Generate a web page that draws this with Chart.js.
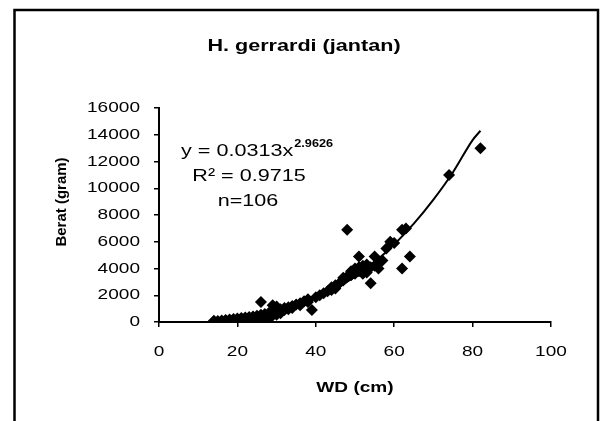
<!DOCTYPE html>
<html><head><meta charset="utf-8">
<script src="https://cdn.jsdelivr.net/npm/chart.js@4.4.0/dist/chart.umd.min.js"></script>
<style>html,body{margin:0;padding:0;background:#fff;}canvas{display:block;}</style>
</head><body>
<canvas id="c" width="602" height="421"></canvas>
<script>
// ---- chart data ----
const chartTitle = 'H. gerrardi (jantan)';
const xAxisTitle = 'WD (cm)';
const yAxisTitle = 'Berat (gram)';
const xTicks = [0, 20, 40, 60, 80, 100];
const yTicks = [0, 2000, 4000, 6000, 8000, 10000, 12000, 14000, 16000];

const wd = [14,15,16,17,17,18,18,19,19,20,20,20,21,21,22,22,22,23,23,23,24,24,24,
  25,25,25,25,26,26,26,26,27,27,27,27,28,28,28,28,29,29,29,29,30,30,30,30,31,31,31,
  32,32,33,33,34,34,35,36,36,37,38,38,39,40,41,42,43,44,44,45,45,46,
  47,47,48,48,49,49,50,50,51,51,51,52,52,52,53,53,53,54,54,55,55,56,56,57,58,59,60,
  62,63,62,64,74,82];
const berat = [100,80,120,150,90,180,120,220,150,260,180,120,300,200,330,250,180,380,300,220,420,350,260,
  470,400,300,200,1500,550,450,350,600,500,380,250,680,560,450,300,1250,760,620,480,1150,850,700,550,950,780,650,
  1050,900,1100,950,1200,1050,1300,1400,1250,1550,1700,1500,900,1850,2000,2150,2300,2600,2400,2750,2500,2900,
  3100,3300,6900,3400,3500,3800,3600,4000,4900,3800,4100,3900,4200,3600,4000,4300,3700,2900,4100,4900,4200,4000,4400,4600,5500,6000,5900,
  6900,7000,4000,4900,11000,13000];

// power trendline (y = 0.0313x^2.9626)
const trendWd = [14, 20, 25, 30, 35, 40, 45, 50, 55, 60, 65, 70, 75, 80, 82];
const trendBerat = [80, 220, 430, 740, 1180, 1750, 2480, 3380, 4490, 5800, 7350, 9150, 11200, 13600, 14300];

const eqMain = 'y = 0.0313x';
const eqExp = '2.9626';
const r2Text = 'R\u00B2 = 0.9715';
const nText = 'n=106';

// ---- rendering ----
const FAMILY = '"Liberation Sans", Arial, sans-serif';
const SX = 1.27; // horizontal text stretch seen in the reference
const canvas = document.getElementById('c');
const ctx0 = canvas.getContext('2d');
const origFill = ctx0.fillText;
ctx0.fillText = function (text, x, y) {
  const m = this.getTransform();
  if (Math.abs(m.b) > 1e-6 || Math.abs(m.c) > 1e-6) return origFill.call(this, text, x, y);
  this.save();
  this.translate(x, y);
  this.scale(SX, 1);
  origFill.call(this, text, 0, 0);
  this.restore();
};

const framePlugin = {
  id: 'frame',
  beforeDraw(chart) {
    const c = chart.ctx;
    c.save();
    c.fillStyle = '#fff';
    c.fillRect(0, 0, chart.width, chart.height);
    c.strokeStyle = '#000';
    c.lineWidth = 2.5;
    c.beginPath();
    c.moveTo(14.5, 421);
    c.lineTo(14.5, 10);
    c.lineTo(598, 10);
    c.lineTo(598, 421);
    c.stroke();
    c.restore();
  }
};

const textPlugin = {
  id: 'texts',
  afterDraw(chart) {
    const c = chart.ctx;
    c.save();
    c.fillStyle = '#000';
    c.textBaseline = 'middle';
    // chart title
    c.textAlign = 'center';
    c.font = 'bold 17px ' + FAMILY;
    c.fillText(chartTitle, 304, 46);
    // y axis title (rotated)
    c.save();
    c.translate(62, 202);
    c.rotate(-Math.PI / 2);
    c.font = 'bold 15px ' + FAMILY;
    c.fillText(yAxisTitle, 0, 0);
    c.restore();
    // equation
    c.textAlign = 'left';
    c.font = '17px ' + FAMILY;
    const x0 = 181, y1 = 151;
    c.fillText(eqMain, x0, y1);
    const w = c.measureText(eqMain).width * SX;
    c.font = 'bold 10px ' + FAMILY;
    c.fillText(eqExp, x0 + w + 1, y1 - 7);
    c.font = '17px ' + FAMILY;
    c.textAlign = 'center';
    c.fillText(r2Text, 249, 176);
    c.fillText(nText, 248, 201);
    c.restore();
  }
};

const points = wd.map((x, i) => ({ x: x, y: berat[i] }));
const trend = trendWd.map((x, i) => ({ x: x, y: trendBerat[i] }));

new Chart(canvas, {
  type: 'scatter',
  data: {
    datasets: [
      {
        label: 'trend',
        data: trend,
        showLine: true,
        pointRadius: 0,
        borderColor: '#000',
        borderWidth: 2,
        cubicInterpolationMode: 'monotone',
        order: 0
      },
      {
        label: 'Berat',
        data: points,
        pointStyle: 'rectRot',
        pointRadius: 6,
        backgroundColor: '#000',
        borderColor: '#000',
        borderWidth: 0,
        order: 1
      }
    ]
  },
  options: {
    responsive: false,
    animation: false,
    devicePixelRatio: 1,
    layout: { padding: { left: 14, right: 51, top: 108, bottom: 0 } },
    plugins: {
      legend: { display: false },
      tooltip: { enabled: false },
      title: { display: false }
    },
    scales: {
      x: {
        type: 'linear',
        position: 'bottom',
        min: xTicks[0],
        max: xTicks[xTicks.length - 1],
        afterBuildTicks: s => { s.ticks = xTicks.map(v => ({ value: v })); },
        afterFit: s => { s.height = 99; },
        grid: { display: true, drawOnChartArea: false, drawTicks: true, tickLength: 5, color: '#000', lineWidth: 1.5 },
        border: { display: true, color: '#000', width: 2 },
        ticks: { color: '#000', font: { family: FAMILY, size: 15 }, padding: 16, maxRotation: 0, autoSkip: false },
        title: { display: true, text: xAxisTitle, color: '#000', font: { family: FAMILY, size: 15, weight: 'bold' }, padding: { top: 0, bottom: 24 } }
      },
      y: {
        type: 'linear',
        position: 'left',
        min: yTicks[0],
        max: yTicks[yTicks.length - 1],
        afterBuildTicks: s => { s.ticks = yTicks.map(v => ({ value: v })); },
        afterFit: s => { s.width = 145; },
        grid: { display: true, drawOnChartArea: false, drawTicks: true, tickLength: 5, color: '#000', lineWidth: 1.5 },
        border: { display: true, color: '#000', width: 2 },
        ticks: { color: '#000', font: { family: FAMILY, size: 15 }, padding: 14, autoSkip: false, callback: v => String(v) },
        title: { display: false }
      }
    }
  },
  plugins: [framePlugin, textPlugin]
});
</script>
</body></html>
